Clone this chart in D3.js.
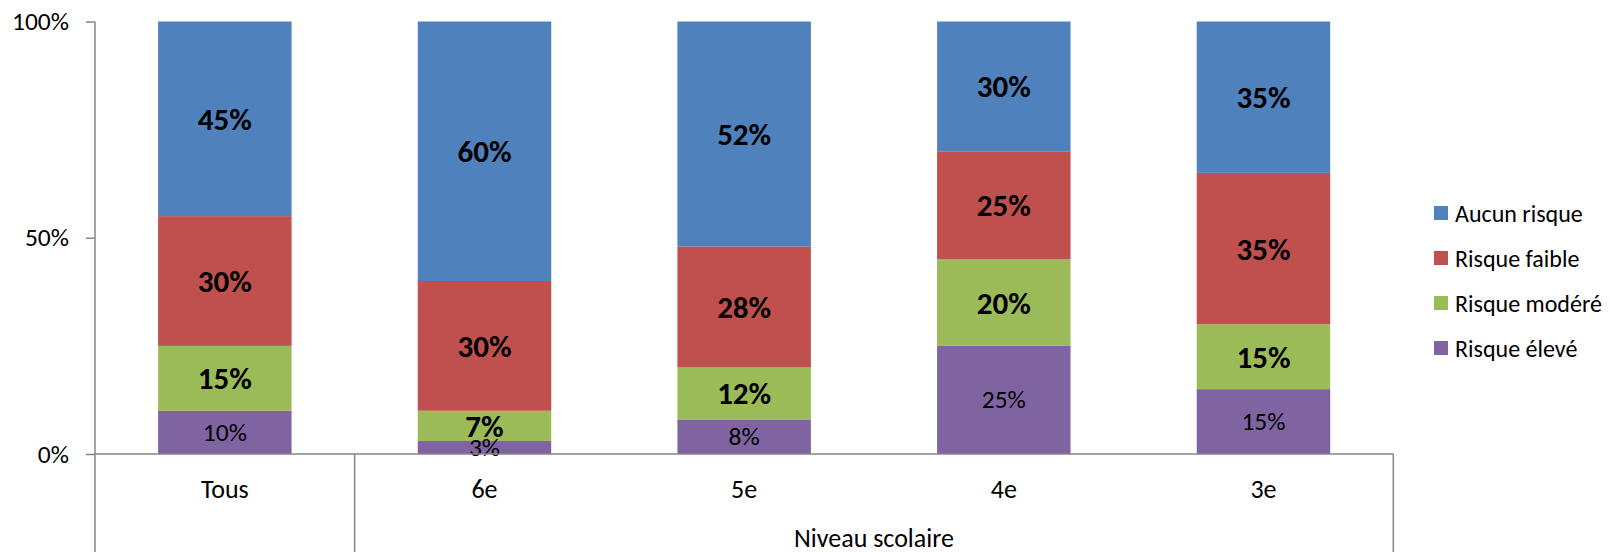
<!DOCTYPE html>
<html>
<head>
<meta charset="utf-8">
<script src="https://cdn.jsdelivr.net/npm/d3@7"></script>
<style>
  html, body { margin: 0; padding: 0; background: #fff; }
  svg { display: block; font-family: Carlito, Calibri, "Open Sans", sans-serif; }
</style>
</head>
<body>
<svg id="chart" width="1610" height="552"></svg>
<script>
const categories = ["Tous", "6e", "5e", "4e", "3e"];
const groupLabel = "Niveau scolaire";
const seriesNames = ["Risque élevé", "Risque modéré", "Risque faible", "Aucun risque"];
const eleve  = [10, 3, 8, 25, 15];
const modere = [15, 7, 12, 20, 15];
const faible = [30, 30, 28, 25, 35];
const aucun  = [45, 60, 52, 30, 35];
const yTicks = [0, 50, 100];
const colors = ["#8064A2", "#9BBB59", "#C0504D", "#4F81BD"];
const boldLabels = [false, true, true, true];

const seriesValues = [eleve, modere, faible, aucun];
const rows = categories.map((c, i) => {
  const r = { cat: c };
  seriesNames.forEach((s, k) => r[s] = seriesValues[k][i]);
  return r;
});

const svg = d3.select("#chart");
const x = d3.scaleBand().domain(categories).range([95, 1393.3]).paddingInner(0.486).paddingOuter(0.243);
const y = d3.scaleLinear().domain([0, 100]).range([454, 21.5]);
const axisColor = "#868686";
const FONT = 'Carlito, Calibri, "Open Sans", sans-serif';

const stack = d3.stack().keys(seriesNames)(rows);

// bars
stack.forEach((layer, k) => {
  svg.append("g").selectAll("rect").data(layer).join("rect")
    .attr("x", d => x(d.data.cat))
    .attr("width", x.bandwidth())
    .attr("y", d => y(d[1]))
    .attr("height", d => y(d[0]) - y(d[1]))
    .attr("fill", colors[k]);
});

// data labels
stack.forEach((layer, k) => {
  svg.append("g").selectAll("text").data(layer).join("text")
    .attr("x", d => x(d.data.cat) + x.bandwidth() / 2)
    .attr("y", d => (y(d[0]) + y(d[1])) / 2)
    .attr("text-anchor", "middle")
    .attr("dominant-baseline", "central")
    .attr("font-size", boldLabels[k] ? 31 : 25.5)
    .attr("font-weight", boldLabels[k] ? "bold" : "normal")
    .attr("fill", "#000")
    .text(d => (d[1] - d[0]) + "%");
});

// y axis
const yAxis = d3.axisLeft(y).tickValues(yTicks).tickFormat(d => d + "%").tickSize(9).tickPadding(17);
const gy = svg.append("g").attr("transform", "translate(95,0)").call(yAxis);
gy.select(".domain").remove();
gy.selectAll(".tick line").attr("stroke", axisColor).attr("stroke-width", 1.5);
gy.selectAll(".tick text").attr("font-size", 25.5).attr("fill", "#000").attr("font-family", FONT);
svg.append("line").attr("x1", 95).attr("x2", 95).attr("y1", y(100)).attr("y2", 552)
  .attr("stroke", axisColor).attr("stroke-width", 1.5);

// x axis
svg.append("line").attr("x1", 95).attr("x2", 1393.3).attr("y1", y(0)).attr("y2", y(0))
  .attr("stroke", axisColor).attr("stroke-width", 1.5);
const sepX = [x("Tous") + x.bandwidth() + x.step() * x.paddingInner() / 2, x.range()[1]];
sepX.forEach(sx => {
  svg.append("line").attr("x1", sx).attr("x2", sx).attr("y1", y(0)).attr("y2", 552)
    .attr("stroke", axisColor).attr("stroke-width", 1.5);
});

svg.append("g").selectAll("text").data(categories).join("text")
  .attr("x", d => x(d) + x.bandwidth() / 2)
  .attr("y", 489)
  .attr("text-anchor", "middle")
  .attr("dominant-baseline", "central")
  .attr("font-size", 26)
  .text(d => d);

svg.append("text")
  .attr("x", (sepX[0] + sepX[1]) / 2)
  .attr("y", 547)
  .attr("text-anchor", "middle")
  .attr("font-size", 26)
  .text(groupLabel);

// legend
const legendOrder = [3, 2, 1, 0];
const legendY = d3.scalePoint().domain(legendOrder).range([213, 348]);
const lg = svg.append("g").selectAll("g").data(legendOrder).join("g")
  .attr("transform", k => `translate(1434,${legendY(k)})`);
lg.append("rect").attr("x", 0).attr("y", -7).attr("width", 14).attr("height", 14).attr("fill", k => colors[k]);
lg.append("text").attr("x", 21).attr("y", 0).attr("dominant-baseline", "central")
  .attr("font-size", 24).text(k => seriesNames[k]);
</script>
</body>
</html>
